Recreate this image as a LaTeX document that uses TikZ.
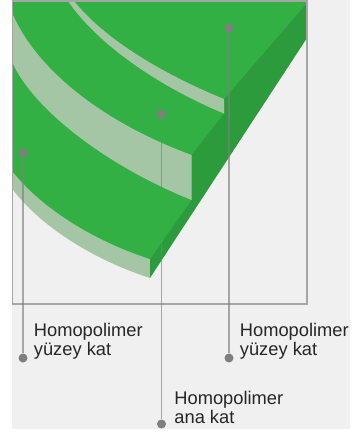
\documentclass[tikz,border=0pt]{standalone}
\usepackage{fontspec}
\setmainfont{Liberation Sans}
\usetikzlibrary{positioning}
\definecolor{cBack}{HTML}{F0F0F0}
\definecolor{cFace}{HTML}{33B044}
\definecolor{cSide}{HTML}{2B9B3C}
\definecolor{cSkin}{HTML}{A5C6A5}
\definecolor{cFrame}{HTML}{A6A6A6}
\definecolor{cLead}{HTML}{7F7F7F}

\begin{document}
\begin{tikzpicture}[
  x=1pt, y=-1pt,
  font=\fontsize{18.3}{19}\selectfont,
  frame/.style={draw=cFrame, line width=1.2pt},
  lead/.style={draw=cLead, line width=1.4pt, draw opacity=0.65},
  pin/.style={circle, fill=cLead, inner sep=0pt, minimum size=9pt},
  lbl/.style={align=left, inner sep=0pt, text=black!85},
]
\useasboundingbox (0,0) rectangle (364,434);
\fill[cBack] (12,0) rectangle (350,429);

% ---------------- sheet ----------------
\fill[cSkin] (13,190) .. controls (45,231) and (100,262) .. (150,278) -- (150,250) -- (13,150) -- cycle;
\fill[cSide] (307,2) -- (307,38) -- (150,278) -- (150,255) -- (188,200) -- (188,155) -- (220,113) -- (220,99) -- cycle;
\fill[cFace] (13,1) -- (307,1) -- (307,3) -- (224,99) -- (224,113.5) -- (191.5,155)
  -- (191.5,200) -- (150,259) .. controls (100,243) and (45,212) .. (13,172) -- cycle;

% ---------------- skin strips ----------------
\fill[cSkin] (13,15) .. controls (40,75) and (110,125) .. (191.5,155) -- (191.5,200)
  .. controls (105,165) and (35,110) .. (13,64) -- cycle;
\fill[cSkin] (74,1) .. controls (105,40) and (165,75) .. (224,99) -- (224,113.5)
  .. controls (160,87) and (98,45) .. (68,1) -- cycle;

\draw[frame] (12.5,1) rectangle (307,304);

% ---------------- pins ----------------
\node (topA) [pin] at (23,153) {};
\node (topB) [pin] at (161.5,114) {};
\node (topC) [pin] at (229,28) {};
\node (endA) [pin] at (23,358) {};
\node (endB) [pin] at (161.5,424) {};
\node (endC) [pin] at (229,358) {};
\draw[lead] (topA) -- (endA);
\draw[lead] (topB) -- (endB);
\draw[lead] (topC) -- (endC);

% ---------------- labels ----------------
\node (lblA) [lbl, right=6pt of endA, yshift=17pt] {Homopolimer\\yüzey kat};
\node (lblB) [lbl, right=8pt of endB, yshift=17pt] {Homopolimer\\ana kat};
\node (lblC) [lbl, right=6pt of endC, yshift=17pt] {Homopolimer\\yüzey kat};

\end{tikzpicture}
\end{document}
